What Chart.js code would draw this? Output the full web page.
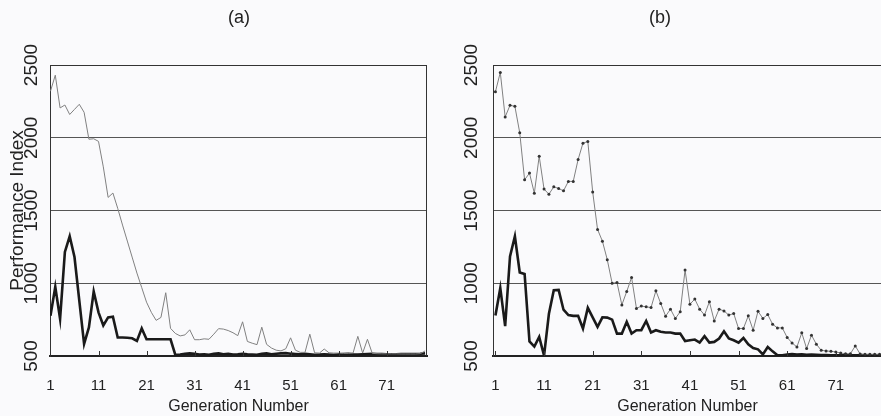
<!DOCTYPE html>
<html lang="en">
<head>
<meta charset="UTF-8">
<title>Performance Index by Generation</title>
<script src="https://cdn.jsdelivr.net/npm/chart.js"></script>
<style>
  html, body { margin: 0; padding: 0; overflow: hidden; background: #fafafc; }
  #wrapA { position: absolute; left: 0; top: 0; width: 440px; height: 416px; }
  #wrapB { position: absolute; left: 440px; top: 0; width: 446px; height: 416px; }
</style>
</head>
<body>
<div id="wrapA"><canvas id="chartA" width="440" height="416"></canvas></div>
<div id="wrapB"><canvas id="chartB" width="446" height="416"></canvas></div>

<script>
  const yTicks = [500, 1000, 1500, 2000, 2500];
  const xTicks = [1, 11, 21, 31, 41, 51, 61, 71];

  // panel (a)
  const thinA = [2320, 2430, 2205, 2225, 2160, 2195, 2230, 2175, 1990, 1993,
                 1975, 1800, 1590, 1620, 1515, 1400, 1290, 1180, 1070, 970,
                 870, 800, 745, 765, 935, 690, 655, 638, 645, 680,
                 612, 612, 618, 615, 650, 688, 685, 675, 660, 640,
                 735, 600, 588, 578, 698, 580, 555, 540, 535, 550,
                 625, 540, 525, 525, 650, 522, 520, 548, 522, 520,
                 520, 518, 518, 520, 635, 520, 615, 518, 516, 515,
                 515, 515, 515, 514, 514, 514, 514, 516, 535];
  const thickA = [777, 975, 755, 1215, 1323, 1180, 880, 583, 696, 943,
                  800, 710, 765, 770, 627, 627, 625, 622, 604, 690,
                  615, 615, 615, 615, 615, 615, 507, 510, 515, 518,
                  515, 510, 512, 508, 515, 518, 512, 515, 510, 512,
                  515, 512, 510, 508, 515, 518, 512, 515, 518, 520,
                  516, 514, 512, 515, 512, 508, 510, 512, 510, 508,
                  512, 514, 515, 512, 510, 512, 514, 515, 514, 513,
                  512, 512, 512, 513, 514, 514, 514, 515, 518];

  // panel (b)
  const thinB = [2316, 2449, 2143, 2223, 2216, 2034, 1711, 1757, 1619, 1873,
                 1647, 1612, 1663, 1651, 1635, 1700, 1700, 1850, 1963, 1974,
                 1628, 1370, 1289, 1162, 1000, 1005, 851, 943, 1040, 827,
                 843, 838, 833, 948, 861, 774, 822, 758, 804, 1091,
                 856, 891, 822, 781, 873, 741, 822, 810, 781, 792,
                 689, 689, 776, 677, 808, 758, 785, 718, 693, 693,
                 627, 590, 562, 659, 551, 643, 581, 539, 535, 532,
                 528, 520, 516, 516, 569, 514, 512, 512, 512, 512];
  const thickB = [778, 966, 705, 1185, 1323, 1074, 1064, 600, 565, 631,
                  503, 790, 952, 954, 818, 781, 776, 776, 689, 831,
                  766, 700, 766, 764, 750, 654, 654, 735, 654, 677,
                  678, 741, 662, 677, 666, 661, 661, 654, 654, 603,
                  608, 613, 592, 636, 592, 597, 620, 670, 620, 608,
                  592, 624, 580, 555, 546, 511, 562, 532, 505, 505,
                  510, 514, 510, 512, 508, 510, 508, 506, 506, 505,
                  505, 505, 505, 505, 505, 505, 505, 505, 505, 505];

  const FONT = "'Liberation Sans', Arial, sans-serif";
  const INK = '#222';

  function toPoints(values) {
    return values.map((v, i) => ({ x: i + 1, y: v }));
  }

  // frame, inner tick marks, rotated y labels and the panel letter
  const decor = {
    id: 'decor',
    afterDraw(chart, args, o) {
      const ctx = chart.ctx;
      const a = chart.chartArea;
      const xs = chart.scales.x, ys = chart.scales.y;
      ctx.save();
      ctx.strokeStyle = '#333';
      ctx.lineWidth = 1;
      ctx.beginPath();
      ctx.moveTo(a.left, a.top + 0.5);
      ctx.lineTo(a.right, a.top + 0.5);
      ctx.moveTo(a.right - 0.5, a.top);
      ctx.lineTo(a.right - 0.5, a.bottom);
      xTicks.forEach(v => {
        const px = Math.round(xs.getPixelForValue(v)) + 0.5;
        ctx.moveTo(px, a.bottom);
        ctx.lineTo(px, a.bottom - 5);
      });
      ctx.stroke();

      ctx.fillStyle = INK;
      ctx.font = '19px ' + FONT;
      ctx.textAlign = 'center';
      ctx.textBaseline = 'middle';
      yTicks.forEach(v => {
        ctx.save();
        ctx.translate(o.labelX, ys.getPixelForValue(v));
        ctx.rotate(-Math.PI / 2);
        ctx.fillText(String(v), 0, 0);
        ctx.restore();
      });

      ctx.font = '18px ' + FONT;
      ctx.fillText(o.letter, o.letterX, 18);
      ctx.restore();
    }
  };

  function makeChart(id, thin, thick, cfg) {
    return new Chart(document.getElementById(id), {
      type: 'line',
      data: {
        datasets: [
          {
            data: toPoints(thin),
            borderColor: '#808080',
            borderWidth: 1,
            pointRadius: cfg.dots ? 1.5 : 0,
            pointBackgroundColor: '#333',
            pointBorderWidth: 0,
            tension: 0
          },
          {
            data: toPoints(thick),
            borderColor: '#1a1a1a',
            borderWidth: 2.6,
            pointRadius: 0,
            tension: 0
          }
        ]
      },
      options: {
        responsive: false,
        animation: false,
        devicePixelRatio: 1,
        layout: { padding: { top: 65, right: cfg.padRight, left: 0, bottom: 0 } },
        plugins: {
          legend: { display: false },
          tooltip: { enabled: false },
          decor: { labelX: cfg.labelX, letter: cfg.letter, letterX: cfg.letterX }
        },
        scales: {
          x: {
            type: 'linear',
            min: cfg.xMin,
            max: cfg.xMax,
            afterBuildTicks: s => { s.ticks = xTicks.map(v => ({ value: v })); },
            afterFit: s => { s.height = 60; },
            grid: { display: false, drawTicks: false },
            border: { display: true, color: '#222', width: 2 },
            ticks: { padding: 21, color: INK, autoSkip: false, maxRotation: 0,
                     font: { family: FONT, size: 15 } },
            title: { display: true, text: 'Generation Number', color: INK, padding: 0,
                     font: { family: FONT, size: 16 } }
          },
          y: {
            min: 500,
            max: 2500,
            afterBuildTicks: s => { s.ticks = yTicks.map(v => ({ value: v })); },
            afterFit: s => { s.width = cfg.yWidth; },
            grid: { color: '#555', lineWidth: 1, drawTicks: false },
            border: { display: true, color: '#333', width: 1 },
            ticks: { display: false },
            title: cfg.yTitle
              ? { display: true, text: 'Performance Index', color: INK,
                  padding: { top: 6, bottom: 0 }, font: { family: FONT, size: 19 } }
              : { display: false }
          }
        }
      },
      plugins: [decor]
    });
  }

  makeChart('chartA', thinA, thickA, {
    xMin: 0.9, xMax: 79.4, padRight: 13, yWidth: 50, labelX: 31.5,
    letter: '(a)', letterX: 239, yTitle: true, dots: false
  });

  makeChart('chartB', thinB, thickB, {
    xMin: 0.5, xMax: 80.5, padRight: 2, yWidth: 53, labelX: 31.5,
    letter: '(b)', letterX: 220, yTitle: false, dots: true
  });
</script>
</body>
</html>
